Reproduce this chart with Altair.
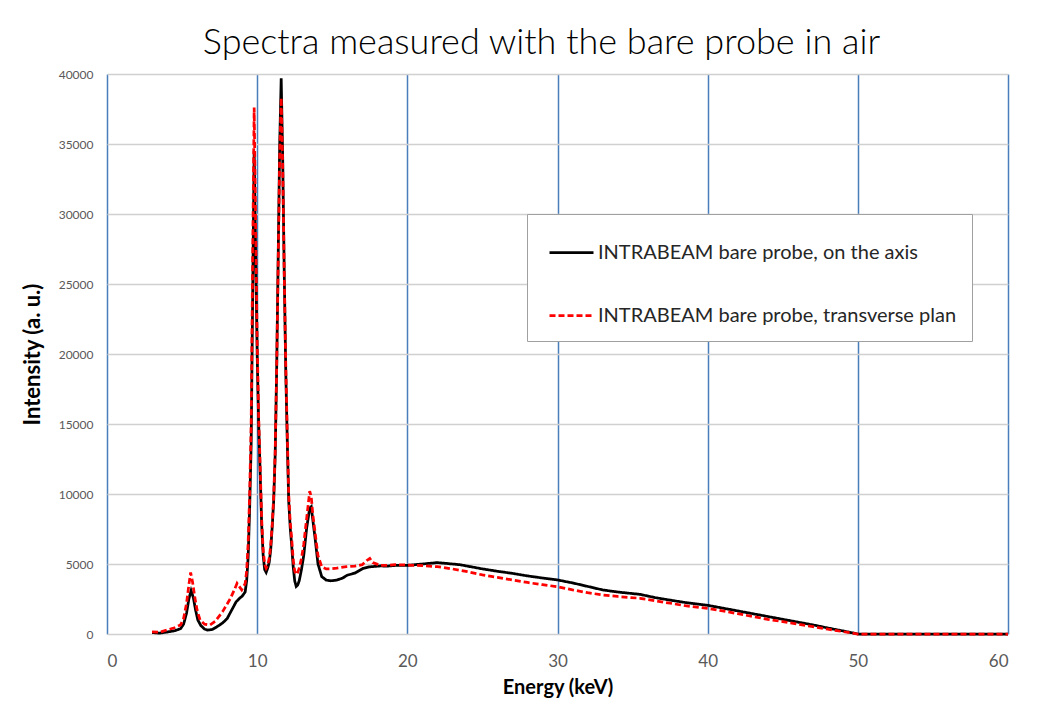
import altair as alt
import pandas as pd

SERIES_AXIS = "INTRABEAM bare probe, on the axis"
SERIES_TRANS = "INTRABEAM bare probe, transverse plan"

axis_energy = [3.0, 3.5, 4.0, 4.5, 4.9, 5.1, 5.3, 5.45, 5.6, 5.75, 5.9, 6.05, 6.25, 6.5, 6.7,
               7.0, 7.3, 7.7, 8.0, 8.3, 8.6, 8.85, 9.0, 9.2, 9.3, 9.4, 9.5, 9.6, 9.7, 9.8,
               9.9, 10.0, 10.1, 10.2, 10.3, 10.4, 10.5, 10.6, 10.7, 10.8, 10.9, 11.0, 11.1,
               11.2, 11.3, 11.4, 11.5, 11.6, 11.7, 11.8, 11.9, 12.0, 12.1, 12.2, 12.3, 12.4,
               12.5, 12.6, 12.7, 12.8, 12.95, 13.1, 13.3, 13.5, 13.6, 13.7, 13.85, 14.05,
               14.3, 14.6, 14.9, 15.3, 15.7, 16.0, 16.5, 17.06, 17.5, 18.2, 18.7, 19.2,
               19.95, 20.5, 21.0, 21.5, 22.0, 22.5, 23.0, 23.5, 24.0, 25.0, 26.0, 27.0, 28.0,
               29.0, 30.0, 31.0, 32.0, 33.0, 34.0, 35.5, 36.5, 37.5, 38.5, 40.0, 41.0, 42.0,
               43.0, 44.0, 45.0, 46.0, 47.0, 48.0, 49.0, 50.0, 52.0, 54.0, 56.0, 58.0, 60.0]
axis_intensity = [100, 60, 140, 230, 380, 700, 1500, 2500, 3100, 2600, 1700, 1000, 600, 350, 280,
                  320, 500, 790, 1100, 1700, 2300, 2570, 2700, 3000, 3800, 5500, 9000, 13500, 24000, 34500,
                  27000, 20000, 15000, 11500, 7800, 5600, 4600, 4400, 4700, 5100, 6000, 7600, 9500,
                  12800, 19000, 27000, 35000, 39700, 34000, 26000, 19000, 14000, 9500, 7600, 6300, 4800,
                  3800, 3400, 3500, 3800, 4600, 5600, 7600, 9000, 9100, 8200, 6900, 5000,
                  4100, 3850, 3800, 3850, 4000, 4200, 4350, 4690, 4800, 4860, 4850, 4900,
                  4900, 4950, 5000, 5050, 5100, 5050, 5000, 4950, 4850, 4650, 4480, 4330, 4150,
                  4000, 3860, 3650, 3400, 3150, 3000, 2830, 2600, 2420, 2250, 2050, 1850, 1650,
                  1450, 1250, 1050, 850, 650, 430, 220, 0, 0, 0, 0, 0, 0]

trans_energy = [3.0, 3.5, 4.0, 4.5, 4.9, 5.1, 5.3, 5.45, 5.57, 5.7, 5.85, 6.0, 6.2, 6.5, 6.85,
                7.2, 7.7, 8.2, 8.5, 8.66, 8.8, 8.97, 9.2, 9.3, 9.4, 9.5, 9.6, 9.7, 9.8,
                9.9, 10.0, 10.1, 10.2, 10.3, 10.4, 10.5, 10.6, 10.7, 10.8, 10.9, 11.0, 11.1,
                11.2, 11.3, 11.4, 11.5, 11.6, 11.7, 11.8, 11.9, 12.0, 12.1, 12.2, 12.3, 12.4,
                12.5, 12.6, 12.7, 12.8, 12.95, 13.1, 13.3, 13.5, 13.6, 13.7, 13.85, 14.05,
                14.3, 14.6, 14.9, 15.3, 15.95, 16.5, 17.0, 17.3, 17.5, 17.7, 18.2, 18.7, 19.2,
                19.95, 20.5, 21.0, 22.0, 23.0, 24.0, 25.0, 26.0, 27.0, 28.0,
                29.0, 30.0, 31.0, 32.0, 33.0, 34.0, 35.5, 36.5, 37.5, 38.5, 40.0, 41.0, 42.0,
                43.0, 44.0, 45.0, 46.0, 47.0, 48.0, 49.0, 50.0, 52.0, 54.0, 56.0, 58.0, 60.0]
trans_intensity = [150, 120, 290, 450, 650, 1100, 2200, 3500, 4400, 3700, 2600, 1700, 1000, 700, 640,
                   900, 1600, 2500, 3200, 3620, 3400, 3150, 3600, 4500, 6500, 10000, 15000, 27000, 37600,
                   29000, 21000, 15500, 12000, 8200, 6000, 5000, 4700, 4900, 5400, 6300, 7800, 9800,
                   13000, 19000, 26500, 34000, 38300, 33500, 26000, 19500, 14500, 10000, 8000, 6800, 5300,
                   4500, 4250, 4400, 4700, 5400, 6400, 8300, 10200, 9800, 8600, 7300, 5600,
                   4800, 4650, 4650, 4700, 4810, 4850, 4950, 5250, 5400, 5100, 4900, 4900, 4950,
                   4930, 4900, 4880, 4810, 4650, 4450, 4220, 4050, 3860, 3680,
                   3520, 3380, 3150, 2950, 2790, 2680, 2550, 2380, 2200, 2020, 1830, 1650, 1450,
                   1250, 1050, 880, 700, 520, 350, 170, 0, 0, 0, 0, 0, 0]

x_ticks = [0, 10, 20, 30, 40, 50, 60]
y_ticks = [0, 5000, 10000, 15000, 20000, 25000, 30000, 35000, 40000]

df = pd.concat([
    pd.DataFrame({"energy": axis_energy, "intensity": axis_intensity, "series": SERIES_AXIS}),
    pd.DataFrame({"energy": trans_energy, "intensity": trans_intensity, "series": SERIES_TRANS}),
])

FONT = "Lato"
series_domain = [SERIES_AXIS, SERIES_TRANS]

base = alt.Chart(df).mark_line(strokeWidth=2.75).encode(
    x=alt.X("energy:Q", title="Energy (keV)",
            scale=alt.Scale(domain=[0, 60], nice=False, zero=False),
            axis=alt.Axis(values=x_ticks, grid=True, gridColor="#4a7ebb", gridWidth=1.5,
                          domain=False, ticks=False, labelPadding=19, titlePadding=8,
                          labelFontSize=17, titleFontSize=20)),
    y=alt.Y("intensity:Q", title="Intensity (a. u.)",
            scale=alt.Scale(domain=[0, 40000], nice=False),
            axis=alt.Axis(values=y_ticks, format="d", grid=True, gridColor="#d0d0d0", gridWidth=1.5,
                          domain=False, ticks=False, labelPadding=14, titlePadding=14,
                          labelFontSize=12, titleFontSize=22)),
    color=alt.Color("series:N", scale=alt.Scale(domain=series_domain, range=["#000000", "#ff0000"]),
                    legend=alt.Legend(title=None, orient="none", legendX=420, legendY=140,
                                      symbolType="stroke", symbolSize=1936, symbolStrokeWidth=2.75,
                                      labelFontSize=20, labelColor="#262626", labelFont=FONT,
                                      padding=15, rowPadding=29, symbolOffset=6,
                                      fillColor="white", strokeColor="#a0a0a0",
                                      labelOffset=3, labelLimit=600)),
    strokeDash=alt.StrokeDash("series:N",
                              scale=alt.Scale(domain=series_domain, range=[[1, 0], [6, 3]]),
                              legend=None),
)

black = base.transform_filter(alt.datum.series == SERIES_AXIS)
red = base.transform_filter(alt.datum.series == SERIES_TRANS)

chart = alt.layer(black, red).properties(
    width=901, height=560,
    title=alt.TitleParams("Spectra measured with the bare probe in air", fontSize=36,
                          font=FONT, fontWeight=300, color="#000000", offset=6, dx=-16),
    autosize=alt.AutoSizeParams(type="none"),
    padding={"left": 99, "top": 66, "right": 30, "bottom": 100},
).configure_view(stroke=None).configure_axis(
    labelFont=FONT, titleFont=FONT, labelColor="#595959", titleColor="#000000", titleFontWeight="bold"
)

chart.save("out.html", embed_options={"renderer": "svg", "actions": False})
